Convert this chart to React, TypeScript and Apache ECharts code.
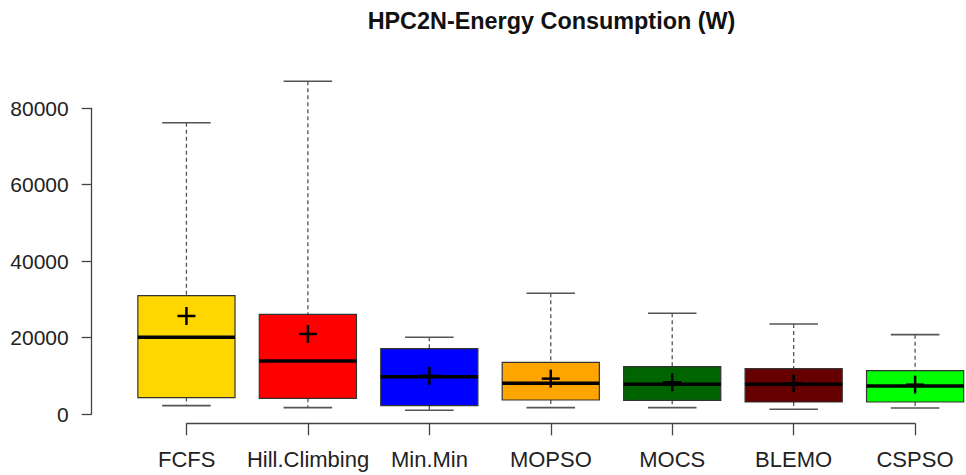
import React, { useEffect, useRef } from "react";
import * as echarts from "echarts";

const title = "HPC2N-Energy Consumption (W)";
const categories = ["FCFS", "Hill.Climbing", "Min.Min", "MOPSO", "MOCS", "BLEMO", "CSPSO"];
const lowerWhisker = [2180, 1650, 960, 1650, 1650, 1220, 1570];
const q1 = [4300, 4100, 2180, 3660, 3580, 3140, 3140];
const median = [20070, 13870, 9770, 8030, 7760, 7760, 7330];
const q3 = [30960, 26090, 17100, 13520, 12390, 11860, 11340];
const upperWhisker = [76230, 87070, 20070, 31580, 26350, 23550, 20760];
const means = [25650, 20940, 10000, 9250, 8290, 8030, 7680];
const boxColors = ["#FFD700", "#FF0000", "#0000FF", "#FFA500", "#006400", "#660000", "#00FF00"];
const yTickMin = 0;
const yTickMax = 80000;
const yTickStep = 20000;

export default function App() {
  const ref = useRef<HTMLDivElement>(null);
  useEffect(() => {
    if (!ref.current) return;
    const chart = echarts.init(ref.current, null, { renderer: "svg" });
    const data = categories.map((_, i) => [
      i + 1,
      lowerWhisker[i],
      q1[i],
      median[i],
      q3[i],
      upperWhisker[i],
      means[i],
    ]);
    const font = "'Liberation Sans', Arial, Helvetica, sans-serif";
    const renderItem = (params: any, api: any) => {
      const x = api.value(0);
      const lw = api.value(1);
      const lq = api.value(2);
      const md = api.value(3);
      const uq = api.value(4);
      const uw = api.value(5);
      const mn = api.value(6);
      const p = (a: number, b: number) => api.coord([a, b]);
      const boxTL = p(x - 0.4, uq);
      const boxBR = p(x + 0.4, lq);
      const cTop = p(x, uw);
      const cBot = p(x, lw);
      const cQ3 = p(x, uq);
      const cQ1 = p(x, lq);
      const capL = p(x - 0.2, uw);
      const capR = p(x + 0.2, uw);
      const capLb = p(x - 0.2, lw);
      const capRb = p(x + 0.2, lw);
      const medL = p(x - 0.4, md);
      const medR = p(x + 0.4, md);
      const m = p(x, mn);
      const whisk = { stroke: "#555", lineWidth: 1.3, lineDash: [4, 3] };
      const cap = { stroke: "#555", lineWidth: 1.6 };
      const h = 9;
      return {
        type: "group",
        children: [
          { type: "line", shape: { x1: cTop[0], y1: cTop[1], x2: cQ3[0], y2: cQ3[1] }, style: whisk },
          { type: "line", shape: { x1: cQ1[0], y1: cQ1[1], x2: cBot[0], y2: cBot[1] }, style: whisk },
          { type: "line", shape: { x1: capL[0], y1: capL[1], x2: capR[0], y2: capR[1] }, style: cap },
          { type: "line", shape: { x1: capLb[0], y1: capLb[1], x2: capRb[0], y2: capRb[1] }, style: cap },
          {
            type: "rect",
            shape: { x: boxTL[0], y: boxTL[1], width: boxBR[0] - boxTL[0], height: boxBR[1] - boxTL[1] },
            style: { fill: boxColors[params.dataIndex], stroke: "#333", lineWidth: 1.2 },
          },
          { type: "line", shape: { x1: medL[0], y1: medL[1], x2: medR[0], y2: medR[1] }, style: { stroke: "#000", lineWidth: 3.5 } },
          { type: "line", shape: { x1: m[0] - h, y1: m[1], x2: m[0] + h, y2: m[1] }, style: { stroke: "#000", lineWidth: 2.5 } },
          { type: "line", shape: { x1: m[0], y1: m[1] - h, x2: m[0], y2: m[1] + h }, style: { stroke: "#000", lineWidth: 2.5 } },
        ],
      };
    };
    chart.setOption({
      animation: false,
      backgroundColor: "#fff",
      title: {
        text: title,
        left: 546.5,
        textAlign: "center",
        top: 4,
        textStyle: { fontFamily: font, fontSize: 23.4, fontWeight: "bold", color: "#111" },
      },
      grid: [
        { left: 91.7, top: 68, width: 874.3, height: 355.3 },
        { left: 91.7, top: 108.3, width: 10, height: 305.7 },
        { left: 186.7, top: 68, width: 728.3, height: 355.3 },
      ],
      xAxis: [
        { type: "value", gridIndex: 0, min: 0.22, max: 7.419, show: false },
        { type: "value", gridIndex: 1, show: false },
        {
          type: "category",
          gridIndex: 2,
          data: categories,
          boundaryGap: false,
          axisLine: { show: true, lineStyle: { color: "#444", width: 1.3 } },
          axisTick: { show: true, length: 12, alignWithLabel: true, lineStyle: { color: "#444", width: 1.3 } },
          axisLabel: { fontFamily: font, fontSize: 22, color: "#222", margin: 25, interval: 0 },
          splitLine: { show: false },
        },
      ],
      yAxis: [
        { type: "value", gridIndex: 0, min: -2440, max: 90550, show: false },
        {
          type: "value",
          gridIndex: 1,
          min: yTickMin,
          max: yTickMax,
          interval: yTickStep,
          axisLine: { show: true, lineStyle: { color: "#444", width: 1.3 } },
          axisTick: { show: true, length: 10, lineStyle: { color: "#444", width: 1.3 } },
          axisLabel: {
            fontFamily: font,
            fontSize: 21,
            color: "#222",
            margin: 23,
            formatter: (v: number) => String(v),
          },
          splitLine: { show: false },
        },
        { type: "value", gridIndex: 2, min: 0, max: 1, show: false },
      ],
      series: [
        {
          type: "custom",
          xAxisIndex: 0,
          yAxisIndex: 0,
          clip: false,
          renderItem,
          encode: { x: 0, y: [1, 2, 3, 4, 5, 6] },
          data,
        },
      ],
    });
    return () => chart.dispose();
  }, []);
  return (
    <div
      ref={ref}
      style={{ position: "fixed", left: 0, top: 0, width: 966, height: 475, background: "#fff" }}
    />
  );
}
